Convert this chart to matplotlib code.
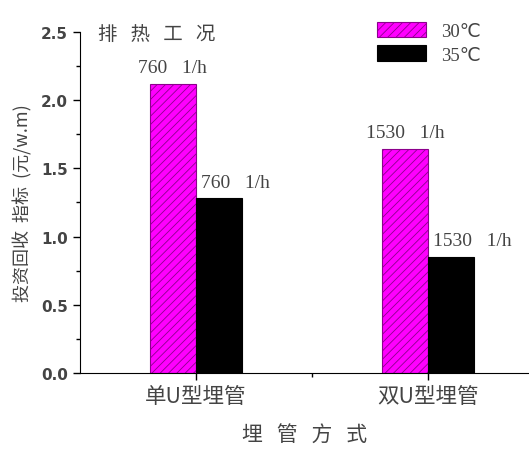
import matplotlib
matplotlib.use('Agg')
import matplotlib.pyplot as plt
import numpy as np

plt.rcParams['font.family'] = ['Noto Sans CJK SC', 'DejaVu Sans']
plt.rcParams['hatch.linewidth'] = 0.6

# dados
categorias = ['单U型埋管', '双U型埋管']
series = ['30℃', '35℃']
valores_30 = [2.12, 1.64]
valores_35 = [1.28, 0.85]
rotulos_30 = ['760   1/h', '1530   1/h']
rotulos_35 = ['760   1/h', '1530   1/h']

cinza = '#444444'
fig = plt.figure(figsize=(5.29, 4.52), dpi=100)
ax = fig.add_axes([0.151, 0.1726, 0.849, 0.7544])

x = np.arange(1, len(categorias) + 1)
w = 0.2
b1 = ax.bar(x - w / 2, valores_30, w, color='#ff00ff', edgecolor='#8c008c',
            hatch='////', linewidth=0.8, label=series[0])
b2 = ax.bar(x + w / 2, valores_35, w, color='black', edgecolor='black',
            linewidth=0.8, label=series[1])

for xi, v, t in zip(x - w / 2, valores_30, rotulos_30):
    ax.text(xi, v + 0.12, t, ha='center', va='center', fontsize=14,
            family='Liberation Serif', color=cinza)
for xi, v, t in zip(x + w / 2, valores_35, rotulos_35):
    ax.text(xi - w / 2 + 0.02, v + 0.12, t, ha='left', va='center', fontsize=14,
            family='Liberation Serif', color=cinza)

ax.set_xlim(0.5, 2.435)
ax.set_ylim(0, 2.5)
ax.spines['top'].set_visible(False)
ax.spines['right'].set_visible(False)
ax.set_xticks(x)
ax.set_xticks([1.5], minor=True)
ax.set_xticklabels(categorias, fontsize=15.5, color=cinza)
ax.set_yticks(np.arange(0, 2.51, 0.5))
ax.set_yticks(np.arange(0.25, 2.5, 0.5), minor=True)
ax.set_yticklabels([f'{v:.1f}' for v in np.arange(0, 2.51, 0.5)],
                   fontsize=11, fontweight='bold', color=cinza, family='DejaVu Sans')
ax.tick_params(axis='both', which='major', length=5, width=1)
ax.tick_params(axis='both', which='minor', length=3, width=1)

ax.set_xlabel('埋   管   方   式', fontsize=15, color=cinza, labelpad=12)
ax.set_ylabel('投资回收  指标  (元/w.m)', fontsize=13, color=cinza, labelpad=6)
ax.text(0.58, 2.49, '排   热   工   况', fontsize=14, color=cinza, va='center')

ax.legend(loc='upper right', bbox_to_anchor=(0.93, 1.08), frameon=False,
          prop={'family': ['Liberation Serif', 'DejaVu Sans'], 'size': 13.5},
          handlelength=2.6, handleheight=0.9, labelspacing=0.3,
          labelcolor=cinza, handletextpad=0.8)

plt.savefig('out.png', dpi=100)
